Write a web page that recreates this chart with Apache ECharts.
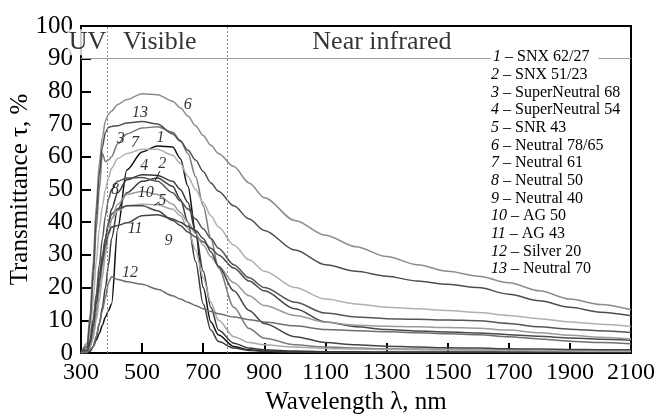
<!DOCTYPE html>
<html><head><meta charset="utf-8">
<script src="https://cdn.jsdelivr.net/npm/echarts@6/dist/echarts.min.js"></script>
<style>html,body{margin:0;padding:0;background:#fff}#c{width:658px;height:419px}</style>
</head><body><div id="c"></div>
<script>
const FONT = "'Liberation Serif','Times New Roman',serif";
const wavelengths = [300,320,330,340,350,360,370,380,390,400,420,450,500,550,600,625,650,675,700,725,750,800,850,900,1000,1100,1200,1300,1400,1500,1600,1700,1800,1900,2000,2100];

const s1  = [0,0,0.5,2,4,6,8.5,11,13,15,38,56,61.5,63.3,63,59.5,51,37,20,9.5,5.5,2,1,0.5,0.2,0.1,0.1,0.1,0.1,0.1,0.1,0.1,0.1,0.1,0.1,0.1];
const s2  = [0,0,1,2,5,9,14,20,27,35,44,49,52.5,53.5,51,47,40,28,15,7,3.5,1.5,0.8,0.5,0.3,0.2,0.2,0.2,0.2,0.2,0.2,0.2,0.2,0.2,0.2,0.2];
const s3  = [0,2,9,22,38,50,61,58.5,59,60,64,67,68.8,69.2,67.5,65,61,54,45,35,26,14,7.5,4.5,2.5,1.8,1.5,1.3,1.2,1.1,1,0.9,0.8,0.7,0.6,0.5];
const s4  = [0,0.5,2,5,12,20,28,35,40,44,49,53,54.5,54.3,52.5,50,46,37,25,14,7,3,1.5,1,0.6,0.4,0.35,0.3,0.3,0.3,0.3,0.3,0.3,0.3,0.3,0.3];
const s5  = [0,0.5,2,5,10,16,23,30,36,41,43.5,45,45.5,45.3,44,42,38,31.5,23,15.5,10,5,3.2,2.5,1.8,1.4,1.2,1.1,1,0.9,0.9,0.8,0.7,0.6,0.5,0.5];
const s6  = [0,3,12,28,45,58,66,71,73,74,76,77.5,79.3,79,77,75,72.5,69.5,66.5,63.5,61,57,52,47.5,40.5,36,32.5,29.5,27,25,23.5,21.5,19,16.5,14.8,13.2];
const s7  = [0,1,6,16,28,38,45,50,53.5,56.5,59.5,61,62.3,62.3,60.5,58,54,50,46,42,38.5,33,28.5,25,20,16.5,15,14,13.5,13,12.4,11.5,10.5,9.5,8.8,8.1];
const s8  = [0,1,4,10,18,27,35,42,47,50,52.5,53.5,53.7,52.5,49,46.5,44,41,38,35,32,27,23,20,15.5,12.2,11,10.5,10.3,10.1,9.9,9,8,7.3,6.8,6.3];
const s9  = [0,1,4,10,17,24,30,35,39.5,42.5,44,45,45,43.5,40.5,39,37,35.5,34,32,30,26,22,19,13.5,9.5,8,7.2,6.7,6.4,6.1,5.6,5.1,4.6,4.2,3.9];
const s10 = [0,0.5,2,6,12,19,26,32,37,41,45.5,48.5,49.5,48.5,45.5,43,40,36.5,33,29.5,26.5,21.5,17.5,14.5,11.5,9.4,8.5,8.2,8,7.8,7.6,7,6.2,5.4,4.8,4.3];
const s11 = [0,0.5,3,8,15,22,28,33,36.5,38.5,39,39.8,42,42.3,41,40,38.7,37.5,35,31,26.5,19,13,9,5,3.2,2.5,2.1,1.8,1.6,1.5,1.3,1.2,1.1,1,1];
const s12 = [0,0.3,1,2,5,9,13,17,21.5,23.3,22.5,21.8,21,19.5,17.5,16.5,15.5,14.5,13.5,12.7,12,11,10.2,9.5,8.3,7.2,6.8,6.5,6.2,5.9,5.6,5,4.3,3.6,3.2,2.8];
const s13 = [0,2,10,25,42,55,63,67.5,69,69.3,69.5,70.3,70.8,70,67,64.8,62,59,55.5,52,49.5,45,41,37.5,31.5,27,25,23.5,22,21,20,18,16,14,12.5,11.4];

const seriesValues = [s1,s2,s3,s4,s5,s6,s7,s8,s9,s10,s11,s12,s13];
const seriesNumbers = ['1','2','3','4','5','6','7','8','9','10','11','12','13'];
const seriesNames = ['SNX 62/27','SNX 51/23','SuperNeutral 68','SuperNeutral 54','SNR 43','Neutral 78/65','Neutral 61','Neutral 50','Neutral 40','AG 50','AG 43','Silver 20','Neutral 70'];
const seriesColors = ['#111111','#3c3c3c','#7a7a7a','#383838','#a8a8a8','#8c8c8c','#b0b0b0','#555555','#4a4a4a','#9a9a9a','#444444','#6e6e6e','#4e4e4e'];

// curve number labels: [wavelength, transmittance, text]
const curveLabels = [[649,76,'6'],[493,73.5,'13'],[430,65.5,'3'],[477,64.3,'7'],[560,65.8,'1'],[507,57.3,'4'],[566,58,'2'],[411,50,'8'],[512,49,'10'],[566,46.5,'5'],[477,38,'11'],[586,34.4,'9'],[460,24.6,'12']];
// leader lines from labels 2 and 5 to their curves
const leader2 = [[558,55.6],[543,52.8]];
const leader5 = [[556,46.2],[540,45.2]];
// spectral regions
const regionLabels = [[321,95,'UV'],[558,95,'Visible'],[1285,95,'Near infrared']];
const regionBounds = [385, 780];
const xTicks = {min:300, max:2100, interval:200};
const yTicks = {min:0, max:100, interval:10};

const chart = echarts.init(document.getElementById('c'), null, {renderer:'canvas'});

const lineSeries = seriesValues.map((vals,k)=>({
  type:'line', name:seriesNames[k], data:wavelengths.map((w,i)=>[w,vals[i]]),
  showSymbol:false, smooth:0.3, smoothMonotone:'x', clip:true,
  lineStyle:{color:seriesColors[k], width:1.5}, z:3, silent:true
}));

const leaderSeries = [leader2, leader5].map(d=>({
  type:'line', data:d, showSymbol:false, silent:true, z:9,
  lineStyle:{color:'#000', width:0.9}
}));

const legendGraphics = seriesNames.map((nm,k)=>({
  type:'text', left:491, top:49 + k*17.67,
  z:20,
  style:{
    text:'{i|'+seriesNumbers[k]+'} – '+nm,
    fill:'#000', font:'16px '+FONT,
    backgroundColor: k===0 ? '#fff' : 'transparent',
    padding: k===0 ? [0,9,0,2] : 0,
    rich:{i:{fontStyle:'italic', fontSize:16, fontFamily:FONT, fill:'#000'}}
  }
}));

chart.setOption({
  animation:false,
  backgroundColor:'#fff',
  grid:{left:81, right:27, top:26, bottom:66, containLabel:false, outerBoundsMode:'none',
    show:true, borderColor:'#000', borderWidth:2, backgroundColor:'transparent'},
  xAxis:{type:'value', min:xTicks.min, max:xTicks.max, interval:xTicks.interval,
    name:'Wavelength λ, nm', nameLocation:'middle', nameGap:37,
    nameTextStyle:{fontFamily:FONT, fontSize:25, color:'#000'},
    axisLine:{lineStyle:{color:'#000', width:2}},
    axisTick:{inside:true, length:10, lineStyle:{color:'#000', width:2}},
    axisLabel:{fontFamily:FONT, fontSize:24, color:'#000', margin:8, formatter:v=>String(v)},
    splitLine:{show:false}},
  yAxis:{type:'value', min:yTicks.min, max:yTicks.max, interval:yTicks.interval,
    name:'Transmittance τ, %', nameLocation:'middle', nameGap:48, nameMoveOverlap:false,
    nameTextStyle:{fontFamily:FONT, fontSize:25, color:'#000'},
    axisLine:{lineStyle:{color:'#000', width:2}},
    axisTick:{inside:true, length:10, lineStyle:{color:'#000', width:2}},
    axisLabel:{fontFamily:FONT, fontSize:25, color:'#000', margin:8, formatter:v=>String(v)},
    splitLine:{show:false}},
  series:[
    {type:'line', data:[], silent:true, z:1,
      markLine:{silent:true, symbol:'none', label:{show:false},
        data:[
          {xAxis:regionBounds[0], lineStyle:{type:[2,2], color:'#8a8a8a', width:1}},
          {xAxis:regionBounds[1], lineStyle:{type:[2,2], color:'#8a8a8a', width:1}},
          {yAxis:90, lineStyle:{type:'solid', color:'#9a9a9a', width:1.2}}
        ]}},
    ...lineSeries,
    ...leaderSeries,
    {type:'scatter', data:curveLabels, symbolSize:0, silent:true, z:10,
      label:{show:true, position:'inside', formatter:p=>p.value[2], fontFamily:FONT, fontStyle:'italic', fontSize:16, color:'#000'}},
    {type:'scatter', data:regionLabels, symbolSize:0, silent:true, z:10,
      label:{show:true, position:'inside', formatter:p=>p.value[2], fontFamily:FONT, fontSize:26, color:'#000',
        backgroundColor:'#fff', padding:[0,1]}}
  ],
  graphic:legendGraphics
});
</script></body></html>
